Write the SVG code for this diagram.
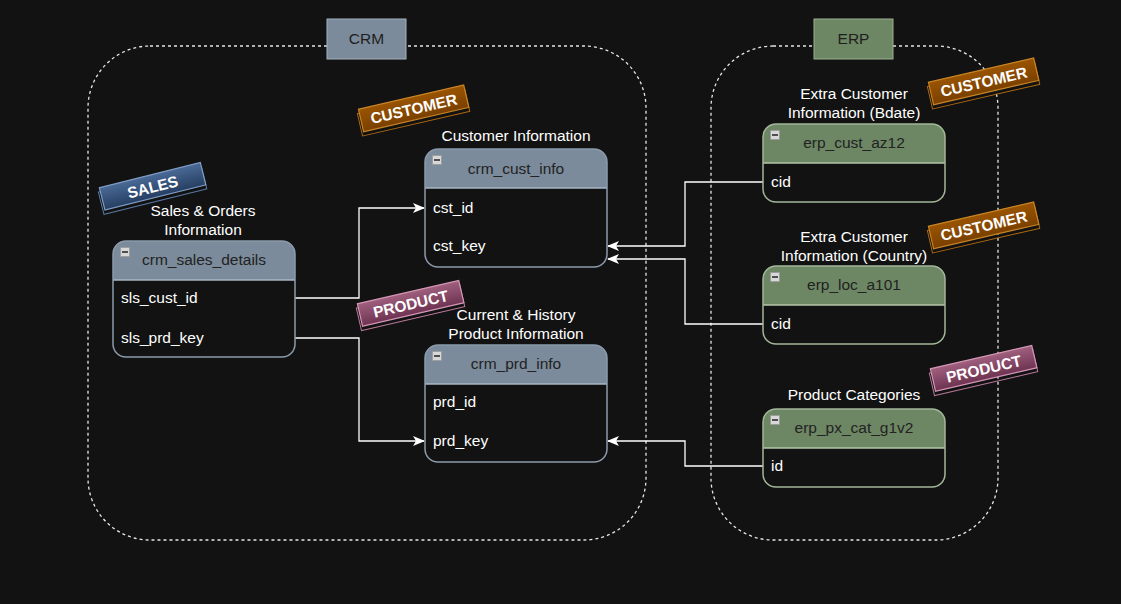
<svg xmlns="http://www.w3.org/2000/svg" width="1121" height="604" viewBox="0 0 1121 604">
  <defs>
    <style>
      text { font-family: "Liberation Sans", Arial, sans-serif; }
      .area { fill: none; stroke: #e6e6e6; stroke-width: 1.3; stroke-dasharray: 3 3; }
      .lbl { font-size: 15.5px; fill: #1e1e1e; text-anchor: middle; }
      .title { font-size: 15.5px; fill: #ffffff; text-anchor: middle; }
      .hdr { font-size: 15.5px; fill: #222222; text-anchor: middle; }
      .row { font-size: 15.5px; fill: #ffffff; }
      .body { fill: #121212; }
      .crm-h { fill: #7b8b9b; }
      .crm-b { fill: none; stroke: #8b9bab; stroke-width: 1.5; }
      .erp-h { fill: #6d8764; }
      .erp-b { fill: none; stroke: #a3b799; stroke-width: 1.5; }
      .sep-crm { stroke: #a8b6c3; stroke-width: 1.5; }
      .sep-erp { stroke: #b5c6aa; stroke-width: 1.5; }
      .mini { fill: #d8d8d8; stroke: #9a9a9a; stroke-width: 0.8; }
      .conn { fill: none; stroke: #ffffff; stroke-width: 1.3; }
      .tagtxt { font-size: 15.5px; font-weight: bold; fill: #ffffff; text-anchor: middle; }
    </style>
    <marker id="arr" viewBox="0 0 12 10" refX="11" refY="5" markerWidth="12" markerHeight="10" markerUnits="userSpaceOnUse" orient="auto">
      <path d="M0,0 L12,5 L0,10 L3,5 Z" fill="#ffffff"/>
    </marker>
    <linearGradient id="gSales" x1="0" y1="0" x2="0" y2="1">
      <stop offset="0" stop-color="#4a6a96"/>
      <stop offset="1" stop-color="#263e62"/>
    </linearGradient>
    <linearGradient id="gCust" x1="0" y1="0" x2="0" y2="1">
      <stop offset="0" stop-color="#9a5400"/>
      <stop offset="1" stop-color="#7a4000"/>
    </linearGradient>
    <linearGradient id="gProd" x1="0" y1="0" x2="0" y2="1">
      <stop offset="0" stop-color="#a0607e"/>
      <stop offset="1" stop-color="#6e3352"/>
    </linearGradient>
  </defs>

  <rect x="0" y="0" width="1121" height="604" fill="#121212"/>

  <!-- system areas -->
  <g id="crm-area">
    <rect class="area" x="88" y="46" width="558" height="494" rx="62" ry="62"/>
    <rect x="327" y="19" width="79" height="40" fill="#7b8b9b" stroke="#a4b1bd" stroke-width="1"/>
    <text class="lbl" x="366.5" y="44">CRM</text>
  </g>
  <g id="erp-area">
    <rect class="area" x="711" y="46" width="287" height="494" rx="62" ry="62"/>
    <rect x="814" y="19" width="79" height="40" fill="#6d8764" stroke="#9bb090" stroke-width="1"/>
    <text class="lbl" x="853.5" y="44">ERP</text>
  </g>

  <!-- connectors -->
  <g id="connectors">
    <path class="conn" d="M295,298 H359 V208 H424" marker-end="url(#arr)"/>
    <path class="conn" d="M295,338 H359 V441 H424" marker-end="url(#arr)"/>
    <path class="conn" d="M763,182 H685 V246 H608" marker-end="url(#arr)"/>
    <path class="conn" d="M763,324 H685 V259 H608" marker-end="url(#arr)"/>
    <path class="conn" d="M763,466 H685 V441 H608" marker-end="url(#arr)"/>
  </g>

  <!-- crm_sales_details -->
  <g id="crm_sales_details">
    <text class="title" x="203" y="216">Sales &amp; Orders</text>
    <text class="title" x="203" y="235">Information</text>
    <rect class="body" x="113" y="241" width="182" height="116" rx="13"/>
    <path class="crm-h" d="M113,280 V254 A13,13 0 0 1 126,241 H282 A13,13 0 0 1 295,254 V280 Z"/>
    <line class="sep-crm" x1="113" y1="280" x2="295" y2="280"/>
    <rect class="crm-b" x="113" y="241" width="182" height="116" rx="13"/>
    <rect class="mini" x="120.5" y="247.5" width="9" height="9"/>
    <line x1="122" y1="252" x2="128" y2="252" stroke="#222" stroke-width="1.5"/>
    <text class="hdr" x="204" y="265">crm_sales_details</text>
    <text class="row" x="121" y="303">sls_cust_id</text>
    <text class="row" x="121" y="343">sls_prd_key</text>
  </g>

  <!-- crm_cust_info -->
  <g id="crm_cust_info">
    <text class="title" x="516" y="141">Customer Information</text>
    <rect class="body" x="425" y="149" width="182" height="118" rx="13"/>
    <path class="crm-h" d="M425,188 V162 A13,13 0 0 1 438,149 H594 A13,13 0 0 1 607,162 V188 Z"/>
    <line class="sep-crm" x1="425" y1="188" x2="607" y2="188"/>
    <rect class="crm-b" x="425" y="149" width="182" height="118" rx="13"/>
    <rect class="mini" x="432.5" y="155.5" width="9" height="9"/>
    <line x1="434" y1="160" x2="440" y2="160" stroke="#222" stroke-width="1.5"/>
    <text class="hdr" x="516" y="174">crm_cust_info</text>
    <text class="row" x="433" y="213">cst_id</text>
    <text class="row" x="433" y="251">cst_key</text>
  </g>

  <!-- crm_prd_info -->
  <g id="crm_prd_info">
    <text class="title" x="516" y="320">Current &amp; History</text>
    <text class="title" x="516" y="339">Product Information</text>
    <rect class="body" x="425" y="345" width="182" height="117" rx="13"/>
    <path class="crm-h" d="M425,384 V358 A13,13 0 0 1 438,345 H594 A13,13 0 0 1 607,358 V384 Z"/>
    <line class="sep-crm" x1="425" y1="384" x2="607" y2="384"/>
    <rect class="crm-b" x="425" y="345" width="182" height="117" rx="13"/>
    <rect class="mini" x="432.5" y="351.5" width="9" height="9"/>
    <line x1="434" y1="356" x2="440" y2="356" stroke="#222" stroke-width="1.5"/>
    <text class="hdr" x="516" y="369">crm_prd_info</text>
    <text class="row" x="433" y="407">prd_id</text>
    <text class="row" x="433" y="446">prd_key</text>
  </g>

  <!-- erp_cust_az12 -->
  <g id="erp_cust_az12">
    <text class="title" x="854" y="99">Extra Customer</text>
    <text class="title" x="854" y="118">Information (Bdate)</text>
    <rect class="body" x="763" y="124" width="182" height="78" rx="13"/>
    <path class="erp-h" d="M763,163 V137 A13,13 0 0 1 776,124 H932 A13,13 0 0 1 945,137 V163 Z"/>
    <line class="sep-erp" x1="763" y1="163" x2="945" y2="163"/>
    <rect class="erp-b" x="763" y="124" width="182" height="78" rx="13"/>
    <rect class="mini" x="770.5" y="130.5" width="9" height="9"/>
    <line x1="772" y1="135" x2="778" y2="135" stroke="#222" stroke-width="1.5"/>
    <text class="hdr" x="854" y="148">erp_cust_az12</text>
    <text class="row" x="771" y="187">cid</text>
  </g>

  <!-- erp_loc_a101 -->
  <g id="erp_loc_a101">
    <text class="title" x="854" y="242">Extra Customer</text>
    <text class="title" x="854" y="261">Information (Country)</text>
    <rect class="body" x="763" y="266" width="182" height="78" rx="13"/>
    <path class="erp-h" d="M763,305 V279 A13,13 0 0 1 776,266 H932 A13,13 0 0 1 945,279 V305 Z"/>
    <line class="sep-erp" x1="763" y1="305" x2="945" y2="305"/>
    <rect class="erp-b" x="763" y="266" width="182" height="78" rx="13"/>
    <rect class="mini" x="770.5" y="272.5" width="9" height="9"/>
    <line x1="772" y1="277" x2="778" y2="277" stroke="#222" stroke-width="1.5"/>
    <text class="hdr" x="854" y="290">erp_loc_a101</text>
    <text class="row" x="771" y="329">cid</text>
  </g>

  <!-- erp_px_cat_g1v2 -->
  <g id="erp_px_cat_g1v2">
    <text class="title" x="854" y="400">Product Categories</text>
    <rect class="body" x="763" y="409" width="182" height="78" rx="13"/>
    <path class="erp-h" d="M763,448 V422 A13,13 0 0 1 776,409 H932 A13,13 0 0 1 945,422 V448 Z"/>
    <line class="sep-erp" x1="763" y1="448" x2="945" y2="448"/>
    <rect class="erp-b" x="763" y="409" width="182" height="78" rx="13"/>
    <rect class="mini" x="770.5" y="415.5" width="9" height="9"/>
    <line x1="772" y1="420" x2="778" y2="420" stroke="#222" stroke-width="1.5"/>
    <text class="hdr" x="854" y="433">erp_px_cat_g1v2</text>
    <text class="row" x="771" y="471">id</text>
  </g>

  <!-- domain tags -->
  <g id="tag-sales" transform="translate(152,188) rotate(-14)">
    <rect x="-53" y="-9" width="106" height="23" fill="none" stroke="#5a7aa6" stroke-width="1"/>
    <rect x="-51" y="-13" width="104" height="23" fill="url(#gSales)" stroke="#7d9cc4" stroke-width="1.2"/>
    <text class="tagtxt" x="1" y="4.5">SALES</text>
  </g>
  <g id="tag-customer-crm" transform="translate(413,110) rotate(-13)">
    <rect x="-55" y="-9" width="110" height="23" fill="none" stroke="#b06a10" stroke-width="1"/>
    <rect x="-53" y="-13" width="108" height="23" fill="url(#gCust)" stroke="#c88426" stroke-width="1.2"/>
    <text class="tagtxt" x="1" y="4.5">CUSTOMER</text>
  </g>
  <g id="tag-product-crm" transform="translate(410,305) rotate(-13)">
    <rect x="-53" y="-9" width="106" height="23" fill="none" stroke="#b8789a" stroke-width="1"/>
    <rect x="-51" y="-13" width="104" height="23" fill="url(#gProd)" stroke="#d496b6" stroke-width="1.2"/>
    <text class="tagtxt" x="1" y="4.5">PRODUCT</text>
  </g>
  <g id="tag-customer-bdate" transform="translate(983,83) rotate(-13)">
    <rect x="-55" y="-9" width="110" height="23" fill="none" stroke="#b06a10" stroke-width="1"/>
    <rect x="-53" y="-13" width="108" height="23" fill="url(#gCust)" stroke="#c88426" stroke-width="1.2"/>
    <text class="tagtxt" x="1" y="4.5">CUSTOMER</text>
  </g>
  <g id="tag-customer-country" transform="translate(983,227) rotate(-13)">
    <rect x="-55" y="-9" width="110" height="23" fill="none" stroke="#b06a10" stroke-width="1"/>
    <rect x="-53" y="-13" width="108" height="23" fill="url(#gCust)" stroke="#c88426" stroke-width="1.2"/>
    <text class="tagtxt" x="1" y="4.5">CUSTOMER</text>
  </g>
  <g id="tag-product-erp" transform="translate(983,370) rotate(-13)">
    <rect x="-53" y="-9" width="106" height="23" fill="none" stroke="#b8789a" stroke-width="1"/>
    <rect x="-51" y="-13" width="104" height="23" fill="url(#gProd)" stroke="#d496b6" stroke-width="1.2"/>
    <text class="tagtxt" x="1" y="4.5">PRODUCT</text>
  </g>
</svg>
